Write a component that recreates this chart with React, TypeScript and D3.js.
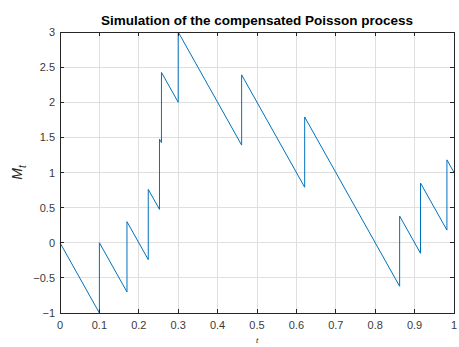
import React from "react";
import * as d3 from "d3";

// Path vertices of the compensated Poisson process M_t (jump-then-drift)
const times = [0, 0.1, 0.1, 0.17, 0.17, 0.224, 0.224, 0.2525, 0.2525, 0.2575, 0.2575, 0.3, 0.3, 0.461, 0.461, 0.621, 0.621, 0.862, 0.862, 0.915, 0.915, 0.982, 0.982, 1];
const values = [0, -1, 0, -0.7, 0.3, -0.24, 0.76, 0.475, 1.475, 1.425, 2.425, 2.0, 3.0, 1.39, 2.39, 0.79, 1.79, -0.62, 0.38, -0.15, 0.85, 0.18, 1.18, 1.0];

const xTicks = [0, 0.1, 0.2, 0.3, 0.4, 0.5, 0.6, 0.7, 0.8, 0.9, 1];
const yTicks = [-1, -0.5, 0, 0.5, 1, 1.5, 2, 2.5, 3];

const W = 459;
const H = 347;
const M = { left: 60, right: 5, top: 32, bottom: 34 };

export default function App() {
  const x = d3.scaleLinear().domain([0, 1]).range([M.left, W - M.right]);
  const y = d3.scaleLinear().domain([-1, 3]).range([H - M.bottom, M.top]);
  const pts: [number, number][] = times.map((t, i) => [t, values[i]]);
  const line = d3
    .line<[number, number]>()
    .x((d) => x(d[0]))
    .y((d) => y(d[1]));

  const x0 = x(0), x1 = x(1), y0 = y(-1), y1 = y(3);
  const axisColor = "#262626";
  const labelColor = "#3a3a3a";
  const font = "'Liberation Sans', Arial, Helvetica, sans-serif";
  const tick = 4;

  return (
    <svg
      width={W}
      height={H}
      style={{ position: "absolute", left: 0, top: 0, background: "#fff" }}
      fontFamily={font}
    >
      <rect x={0} y={0} width={W} height={H} fill="#fff" />
      {/* grid */}
      {xTicks.map((t) => (
        <line key={"gx" + t} x1={x(t)} x2={x(t)} y1={y0} y2={y1} stroke="#dfdfdf" strokeWidth={1} shapeRendering="crispEdges" />
      ))}
      {yTicks.map((t) => (
        <line key={"gy" + t} x1={x0} x2={x1} y1={y(t)} y2={y(t)} stroke="#dfdfdf" strokeWidth={1} shapeRendering="crispEdges" />
      ))}
      {/* data */}
      <path d={line(pts) ?? ""} fill="none" stroke="#0072BD" strokeWidth={1} />
      {/* box */}
      <rect x={x0} y={y1} width={x1 - x0} height={y0 - y1} fill="none" stroke={axisColor} strokeWidth={1} shapeRendering="crispEdges" />
      {/* ticks */}
      {xTicks.map((t) => (
        <g key={"tx" + t}>
          <line x1={x(t)} x2={x(t)} y1={y0} y2={y0 - tick} stroke={axisColor} shapeRendering="crispEdges" />
          <line x1={x(t)} x2={x(t)} y1={y1} y2={y1 + tick} stroke={axisColor} shapeRendering="crispEdges" />
          <text x={x(t)} y={y0 + 16} textAnchor="middle" fontSize={11} fill={labelColor}>
            {d3.format("~g")(t)}
          </text>
        </g>
      ))}
      {yTicks.map((t) => (
        <g key={"ty" + t}>
          <line x1={x0} x2={x0 + tick} y1={y(t)} y2={y(t)} stroke={axisColor} shapeRendering="crispEdges" />
          <line x1={x1} x2={x1 - tick} y1={y(t)} y2={y(t)} stroke={axisColor} shapeRendering="crispEdges" />
          <text x={x0 - 5} y={y(t) + 4} textAnchor="end" fontSize={11} fill={labelColor}>
            {d3.format("~g")(t)}
          </text>
        </g>
      ))}
      {/* title */}
      <text x={(x0 + x1) / 2} y={25} textAnchor="middle" fontSize={13.5} fontWeight="bold" fill="#000">
        Simulation of the compensated Poisson process
      </text>
      {/* axis labels */}
      <text x={(x0 + x1) / 2} y={H - 4} textAnchor="middle" fontSize={8} fontStyle="italic" fill={axisColor}>
        t
      </text>
      <text transform={`translate(22, ${(y0 + y1) / 2}) rotate(-90)`} textAnchor="middle" fontSize={14} fontStyle="italic" fill={axisColor}>
        M
        <tspan fontSize={10} dy={4}>t</tspan>
      </text>
    </svg>
  );
}
